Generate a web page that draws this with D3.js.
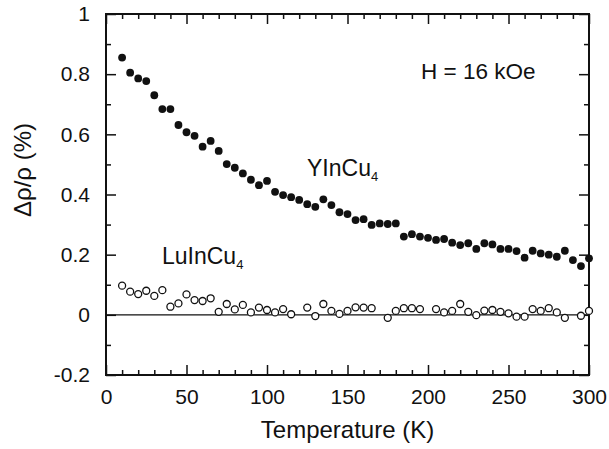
<!DOCTYPE html>
<html>
<head>
<meta charset="utf-8">
<script src="https://cdn.jsdelivr.net/npm/d3@7"></script>
<style>
  html, body { margin: 0; padding: 0; background: #fff; }
  svg { display: block; }
  text { font-family: "Liberation Sans", Arial, Helvetica, sans-serif; fill: #111; }
</style>
</head>
<body>
<svg id="chart" width="609" height="449"></svg>
<script>
// ---- data ----
const tempY = [10,15,20,25,30,35,40,45,50,55,60,65,70,75,80,85,90,95,100,105,110,115,120,125,130,135,140,145,150,155,160,165,170,175,180,185,190,195,200,205,210,215,220,225,230,235,240,245,250,255,260,265,270,275,280,285,290,295,300];
const yincu4 = [0.855,0.805,0.786,0.777,0.730,0.684,0.684,0.631,0.607,0.595,0.559,0.578,0.545,0.501,0.489,0.470,0.449,0.431,0.445,0.409,0.398,0.391,0.382,0.368,0.359,0.384,0.365,0.341,0.335,0.315,0.318,0.299,0.304,0.302,0.304,0.260,0.268,0.260,0.256,0.249,0.252,0.240,0.232,0.238,0.219,0.238,0.234,0.219,0.219,0.212,0.190,0.213,0.204,0.200,0.193,0.213,0.182,0.162,0.188];
const tempLu = [10,15,20,25,30,35,40,45,50,55,60,65,70,75,80,85,90,95,100,105,110,115,125,130,135,140,145,150,155,160,165,175,180,185,190,195,205,210,215,220,225,230,235,240,245,250,255,260,265,270,275,280,285,295,300];
const luincu4 = [0.097,0.077,0.069,0.080,0.063,0.082,0.027,0.038,0.068,0.049,0.046,0.055,0.010,0.036,0.018,0.033,0.008,0.024,0.016,0.008,0.019,0.002,0.024,-0.004,0.036,0.013,0.003,0.013,0.025,0.024,0.022,-0.010,0.013,0.022,0.022,0.019,0.019,0.008,0.013,0.036,0.010,-0.001,0.014,0.016,0.010,0.005,-0.006,-0.006,0.019,0.013,0.022,0.008,-0.010,-0.003,0.013];
const xTicks = [0,50,100,150,200,250,300];
const xMinor = [10,20,30,40,60,70,80,90,110,120,130,140,160,170,180,190,210,220,230,240,260,270,280,290];
const yTicks = [-0.2,0,0.2,0.4,0.6,0.8,1];
const yTickLabels = ["-0.2","0","0.2","0.4","0.6","0.8","1"];
const yMinor = [-0.1,0.1,0.3,0.5,0.7,0.9];
const xLabel = "Temperature (K)";
const yLabel = "Δρ/ρ (%)";
const fieldLabel = "H = 16 kOe";

// ---- layout ----
const svg = d3.select("#chart");
const L = 106, R = 589, T = 14, B = 375;
const x = d3.scaleLinear().domain([0, 300]).range([L, R]);
const y = d3.scaleLinear().domain([-0.2, 1]).range([B, T]);
const majorLen = 10, minorLen = 5;

function styleAxis(g) {
  g.select(".domain").remove();
  g.selectAll(".tick line").attr("stroke", "#111").attr("stroke-width", 1.5);
}

// bottom axis with labels
svg.append("g").attr("transform", `translate(0,${B})`)
  .call(d3.axisBottom(x).tickValues(xTicks).tickFormat(d3.format("d"))
        .tickSizeInner(-majorLen).tickSizeOuter(0).tickPadding(14))
  .call(styleAxis)
  .call(g => g.selectAll("text").attr("font-size", 21).attr("fill", "#111")
        .attr("font-family", "Liberation Sans, Arial, sans-serif"));
svg.append("g").attr("transform", `translate(0,${B})`)
  .call(d3.axisBottom(x).tickValues(xMinor).tickFormat("").tickSizeInner(-minorLen).tickSizeOuter(0))
  .call(styleAxis);
// top axis
svg.append("g").attr("transform", `translate(0,${T})`)
  .call(d3.axisTop(x).tickValues(xTicks).tickFormat("").tickSizeInner(-majorLen).tickSizeOuter(0))
  .call(styleAxis);
svg.append("g").attr("transform", `translate(0,${T})`)
  .call(d3.axisTop(x).tickValues(xMinor).tickFormat("").tickSizeInner(-minorLen).tickSizeOuter(0))
  .call(styleAxis);
// left axis with labels
svg.append("g").attr("transform", `translate(${L},0)`)
  .call(d3.axisLeft(y).tickValues(yTicks).tickFormat((d, i) => yTickLabels[i])
        .tickSizeInner(-majorLen).tickSizeOuter(0).tickPadding(16))
  .call(styleAxis)
  .call(g => g.selectAll("text").attr("font-size", 21).attr("fill", "#111")
        .attr("font-family", "Liberation Sans, Arial, sans-serif"));
svg.append("g").attr("transform", `translate(${L},0)`)
  .call(d3.axisLeft(y).tickValues(yMinor).tickFormat("").tickSizeInner(-minorLen).tickSizeOuter(0))
  .call(styleAxis);
// right axis
svg.append("g").attr("transform", `translate(${R},0)`)
  .call(d3.axisRight(y).tickValues(yTicks).tickFormat("").tickSizeInner(-majorLen).tickSizeOuter(0))
  .call(styleAxis);
svg.append("g").attr("transform", `translate(${R},0)`)
  .call(d3.axisRight(y).tickValues(yMinor).tickFormat("").tickSizeInner(-minorLen).tickSizeOuter(0))
  .call(styleAxis);

// frame
svg.append("rect").attr("x", L).attr("y", T).attr("width", R - L).attr("height", B - T)
  .attr("fill", "none").attr("stroke", "#111").attr("stroke-width", 2);

// zero line
svg.append("line").attr("x1", x(0)).attr("x2", x(300)).attr("y1", y(0)).attr("y2", y(0))
  .attr("stroke", "#111").attr("stroke-width", 1.2);

// YInCu4 filled
svg.append("g").selectAll("circle").data(tempY).join("circle")
  .attr("cx", d => x(d)).attr("cy", (d, i) => y(yincu4[i])).attr("r", 3.9)
  .attr("fill", "#111");

// LuInCu4 open
svg.append("g").selectAll("circle").data(tempLu).join("circle")
  .attr("cx", d => x(d)).attr("cy", (d, i) => y(luincu4[i])).attr("r", 3.5)
  .attr("fill", "#fff").attr("stroke", "#111").attr("stroke-width", 1.3);

// annotations
svg.append("text").attr("x", 421).attr("y", 79).attr("font-size", 22.5).text(fieldLabel);

const yt = svg.append("text").attr("x", 307).attr("y", 176).attr("font-size", 23);
yt.append("tspan").text("YInCu");
yt.append("tspan").attr("font-size", 13).attr("dy", 5).text("4");

const lt = svg.append("text").attr("x", 162).attr("y", 264).attr("font-size", 23);
lt.append("tspan").text("LuInCu");
lt.append("tspan").attr("font-size", 13).attr("dy", 5).text("4");

// axis titles
svg.append("text").attr("x", (L + R) / 2).attr("y", 438).attr("text-anchor", "middle")
  .attr("font-size", 24).text(xLabel);
svg.append("text").attr("transform", "translate(31,170) rotate(-90)").attr("text-anchor", "middle")
  .attr("font-size", 24).text(yLabel);
</script>
</body>
</html>
